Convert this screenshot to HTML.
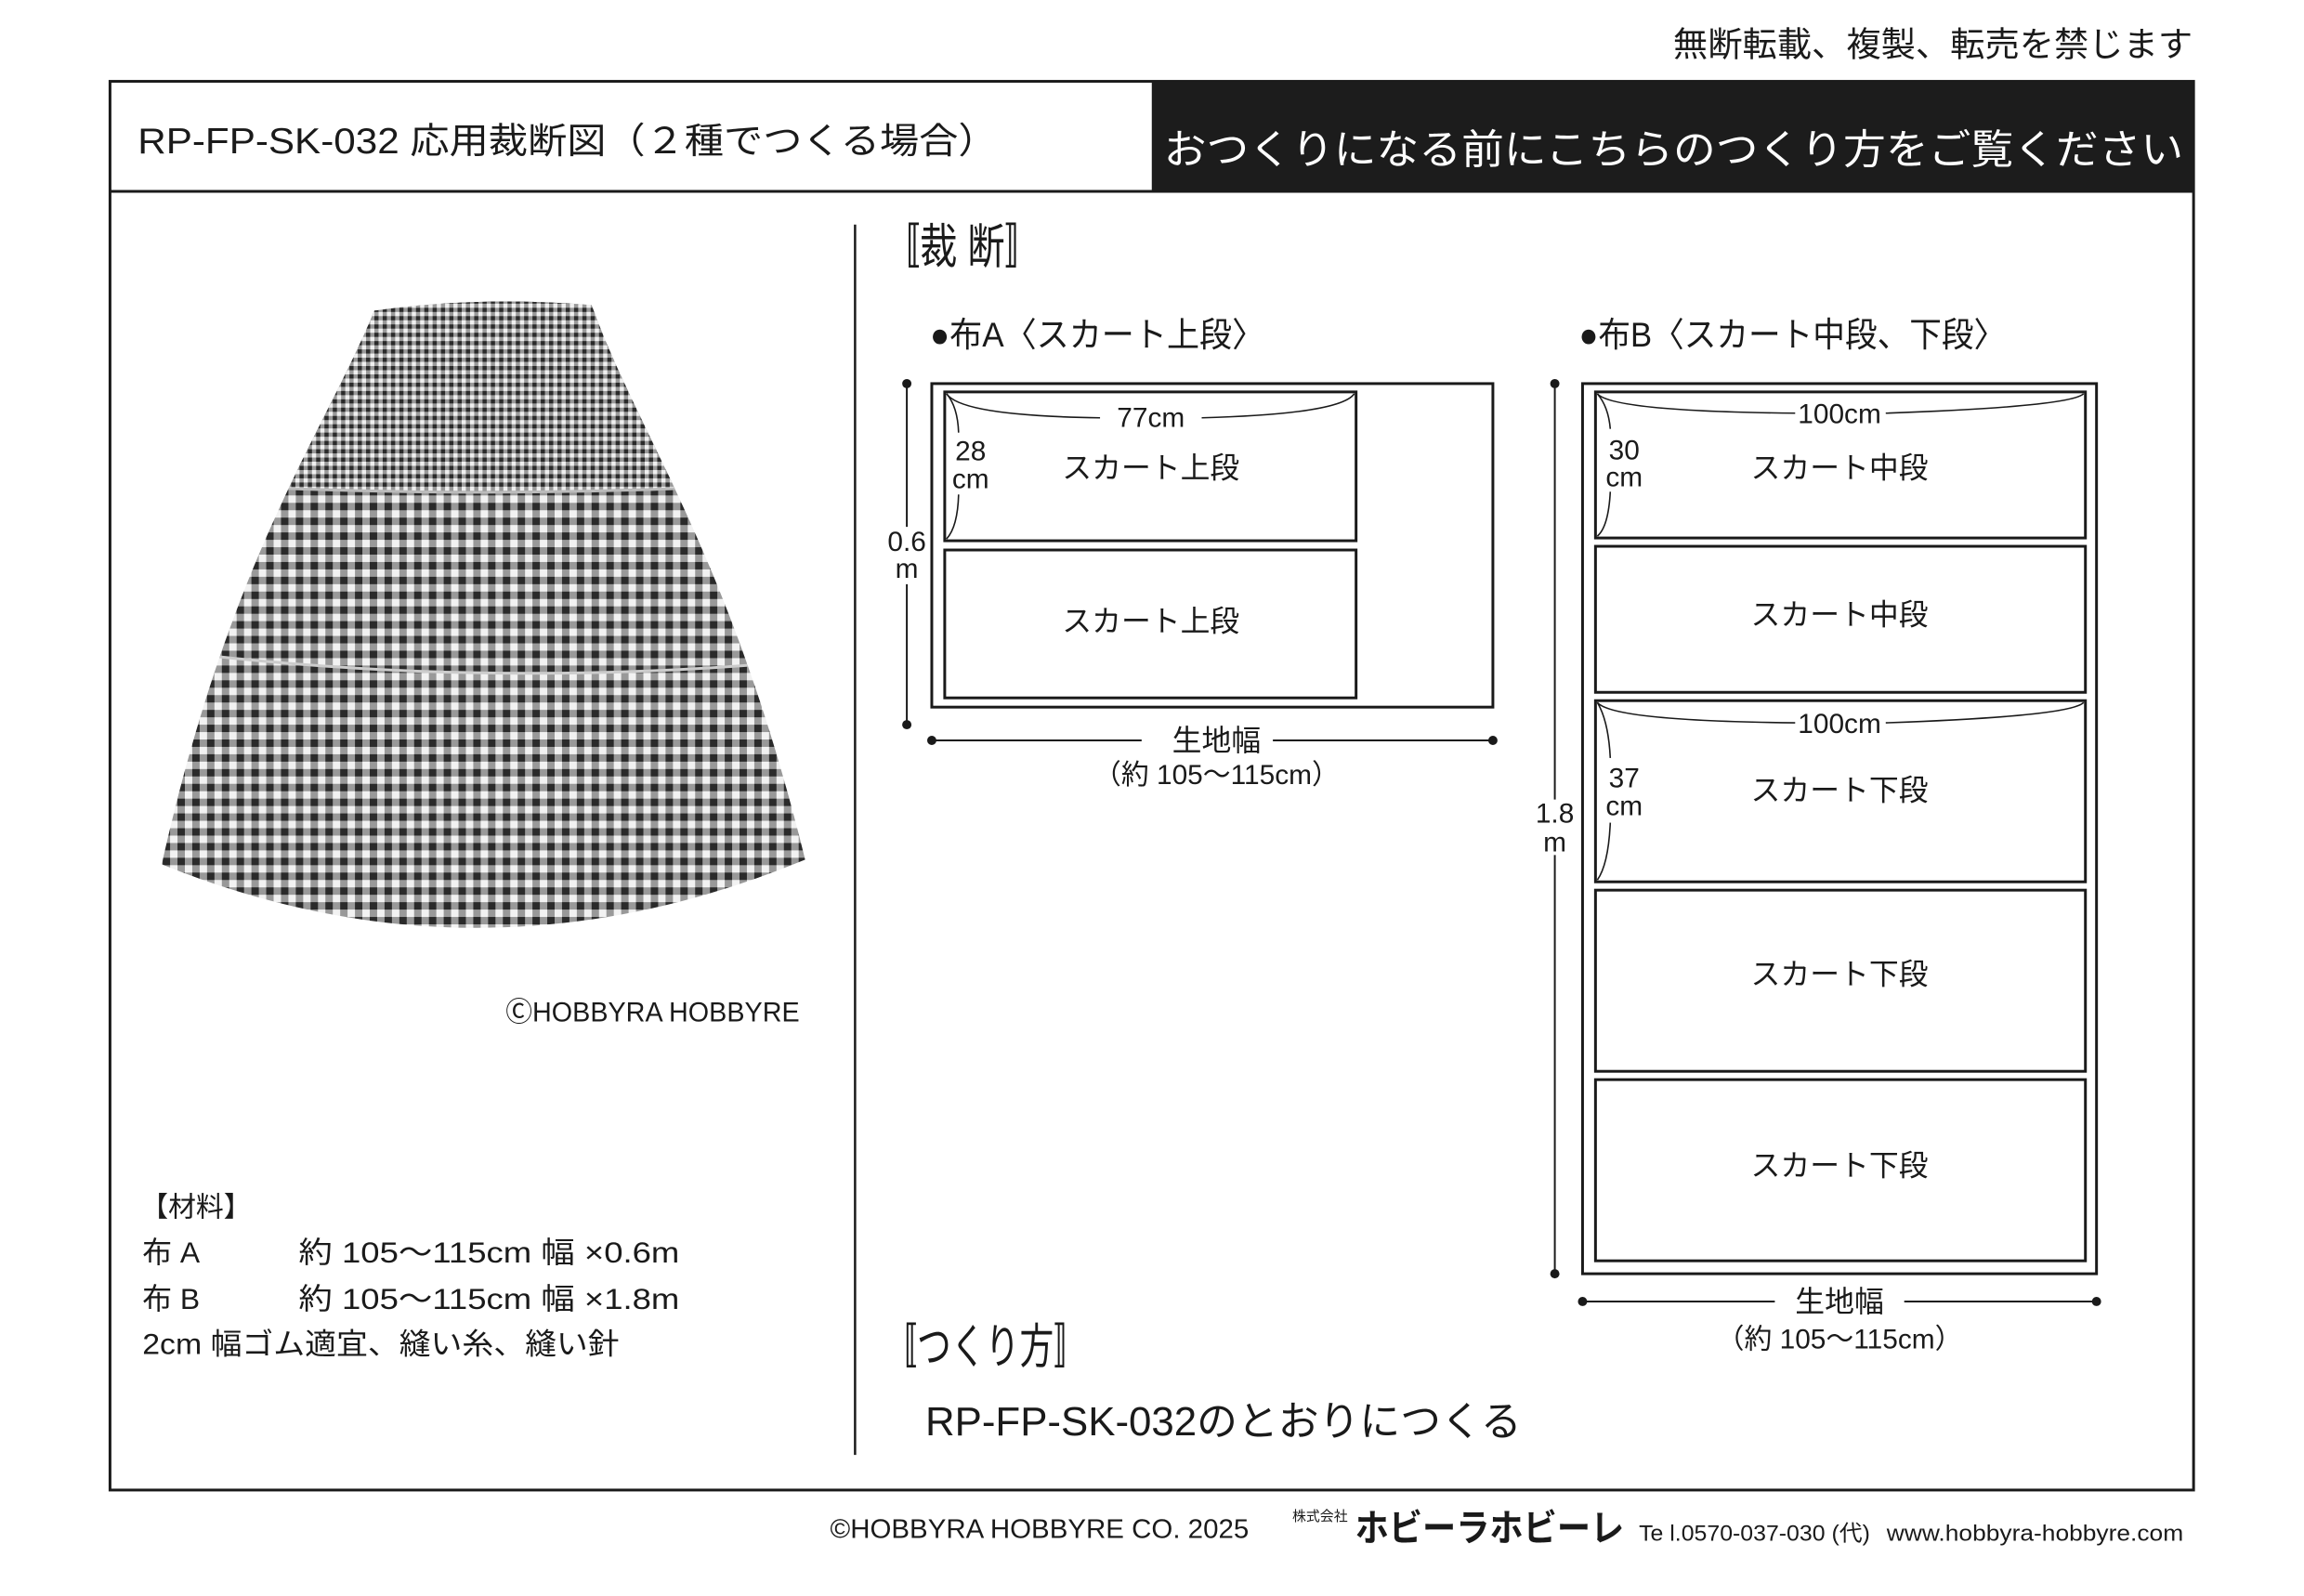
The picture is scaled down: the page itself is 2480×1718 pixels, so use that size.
<!DOCTYPE html>
<html><head><meta charset="utf-8"><style>
html,body{margin:0;padding:0;background:#fff}
svg{display:block}
text{font-family:"Liberation Sans","Noto Sans CJK JP",sans-serif;fill:#1a1a1a}
</style></head><body>
<svg width="2480" height="1718" viewBox="0 0 2480 1718" xmlns="http://www.w3.org/2000/svg">
<defs>
<pattern id="g1" width="16" height="16" patternUnits="userSpaceOnUse">
<rect width="16" height="16" fill="#f2f2f2"/>
<rect width="8" height="16" fill="#999"/>
<rect width="16" height="8" fill="#999"/>
<rect width="8" height="8" fill="#2a2a2a"/>
</pattern>
<pattern id="g2" width="9" height="9" patternUnits="userSpaceOnUse">
<rect width="9" height="9" fill="#f0f0f0"/>
<rect width="4.5" height="9" fill="#999"/>
<rect width="9" height="4.5" fill="#999"/>
<rect width="4.5" height="4.5" fill="#2a2a2a"/>
</pattern>
<clipPath id="sk"><path d="M405,336 Q520,320 640,330 C690,470 790,600 871,930 Q520,1075 175,935 C250,600 350,470 405,336 Z"/></clipPath>
</defs>
<g transform="scale(0.995)">
<text x="2372" y="61" font-size="37" text-anchor="end" textLength="562" lengthAdjust="spacingAndGlyphs">無断転載、複製、転売を禁じます</text>

<rect x="119" y="88" width="2254" height="1524" fill="none" stroke="#1a1a1a" stroke-width="3"/>
<rect x="1246" y="88" width="1127" height="119" fill="#1c1c1c"/>
<line x1="119" y1="207" x2="2373" y2="207" stroke="#1a1a1a" stroke-width="3"/>
<text x="149" y="166" font-size="39" textLength="930" lengthAdjust="spacingAndGlyphs">RP-FP-SK-032 応用裁断図（２種でつくる場合）</text>
<text x="1259" y="177" font-size="44" style="fill:#fff" textLength="1103" lengthAdjust="spacingAndGlyphs">おつくりになる前にこちらのつくり方をご覧ください</text>

<line x1="925" y1="243" x2="925" y2="1574" stroke="#1a1a1a" stroke-width="2.5"/>

<!-- skirt -->
<g clip-path="url(#sk)">
<rect x="150" y="300" width="750" height="800" fill="url(#g1)"/>
<path d="M150,300 L900,300 L900,520 Q520,545 150,520 Z" fill="url(#g2)"/>
<path d="M150,520 Q520,545 900,520" fill="none" stroke="#bbb" stroke-width="3"/>
<path d="M150,700 Q520,750 900,712" fill="none" stroke="#ccc" stroke-width="3"/>
</g>

<text x="547" y="1105" font-size="30" textLength="318" lengthAdjust="spacingAndGlyphs">ⒸHOBBYRA HOBBYRE</text>

<text x="152" y="1316" font-size="30">【材料】</text>
<text x="154" y="1366" font-size="32">布 A</text>
<text x="323" y="1366" font-size="32" textLength="412" lengthAdjust="spacingAndGlyphs">約 105〜115cm 幅 ×0.6m</text>
<text x="154" y="1416" font-size="32">布 B</text>
<text x="323" y="1416" font-size="32" textLength="412" lengthAdjust="spacingAndGlyphs">約 105〜115cm 幅 ×1.8m</text>
<text x="154" y="1465" font-size="32" textLength="516" lengthAdjust="spacingAndGlyphs">2cm 幅ゴム適宜、縫い糸、縫い針</text>

<text x="955" y="285" font-size="52" textLength="172" lengthAdjust="spacingAndGlyphs">〚裁 断〛</text>
<text x="1006" y="375" font-size="37" textLength="362" lengthAdjust="spacingAndGlyphs">●布A〈スカート上段〉</text>
<text x="1708" y="375" font-size="37" textLength="462" lengthAdjust="spacingAndGlyphs">●布B〈スカート中段、下段〉</text>
<text x="955" y="1475" font-size="52" textLength="222" lengthAdjust="spacingAndGlyphs">〚つくり方〛</text>
<text x="1001" y="1553" font-size="44" textLength="645" lengthAdjust="spacingAndGlyphs">RP-FP-SK-032のとおりにつくる</text>

<g fill="none" stroke="#1a1a1a">
<rect x="1008" y="415" width="607" height="350" stroke-width="3"/>
<rect x="1022" y="424" width="445" height="161" stroke-width="3"/>
<rect x="1022" y="595" width="445" height="160" stroke-width="3"/>
<line x1="981" y1="415" x2="981" y2="570" stroke-width="2"/>
<line x1="981" y1="632" x2="981" y2="784" stroke-width="2"/>
<line x1="1008" y1="801" x2="1235" y2="801" stroke-width="2"/>
<line x1="1377" y1="801" x2="1615" y2="801" stroke-width="2"/>
<path d="M1024,426 Q1040,450 1190,452 M1300,452 Q1450,448 1465,426" stroke-width="1.6"/>
<path d="M1024,426 Q1036,440 1037,468 M1037,535 Q1036,570 1024,583" stroke-width="1.6"/>
<rect x="1712" y="415" width="556" height="963" stroke-width="3"/>
<rect x="1726" y="424" width="530" height="158" stroke-width="3"/>
<rect x="1726" y="591" width="530" height="158" stroke-width="3"/>
<rect x="1726" y="758" width="530" height="196" stroke-width="3"/>
<rect x="1726" y="963" width="530" height="196" stroke-width="3"/>
<rect x="1726" y="1168" width="530" height="196" stroke-width="3"/>
<line x1="1682" y1="415" x2="1682" y2="865" stroke-width="2"/>
<line x1="1682" y1="925" x2="1682" y2="1378" stroke-width="2"/>
<line x1="1712" y1="1408" x2="1920" y2="1408" stroke-width="2"/>
<line x1="2060" y1="1408" x2="2268" y2="1408" stroke-width="2"/>
<path d="M1728,426 Q1745,445 1942,447 M2040,447 Q2240,440 2254,426" stroke-width="1.6"/>
<path d="M1728,426 Q1740,440 1742,464 M1742,532 Q1740,570 1728,580" stroke-width="1.6"/>
<path d="M1728,760 Q1745,780 1942,782 M2040,782 Q2240,775 2254,760" stroke-width="1.6"/>
<path d="M1728,760 Q1740,780 1742,820 M1742,890 Q1740,935 1728,952" stroke-width="1.6"/>
</g>
<g fill="#1a1a1a">
<circle cx="981" cy="415" r="5"/><circle cx="981" cy="784" r="5"/>
<circle cx="1008" cy="801" r="5"/><circle cx="1615" cy="801" r="5"/>
<circle cx="1682" cy="415" r="5"/><circle cx="1682" cy="1378" r="5"/>
<circle cx="1712" cy="1408" r="5"/><circle cx="2268" cy="1408" r="5"/>
</g>

<g font-size="30" text-anchor="middle">
<text x="1245" y="462">77cm</text>
<text x="1050" y="498">28</text><text x="1050" y="528">cm</text>
<text x="981" y="596">0.6</text><text x="981" y="625">m</text>
<text x="1316" y="812" font-size="32">生地幅</text>
<text x="1316" y="848">（約 105〜115cm）</text>
<text x="1990" y="458">100cm</text>
<text x="1990" y="793">100cm</text>
<text x="1757" y="497">30</text><text x="1757" y="526">cm</text>
<text x="1757" y="852">37</text><text x="1757" y="882">cm</text>
<text x="1682" y="890">1.8</text><text x="1682" y="921">m</text>
<text x="1990" y="1419" font-size="32">生地幅</text>
<text x="1990" y="1459">（約 105〜115cm）</text>
</g>
<g font-size="32" text-anchor="middle">
<text x="1245" y="517">スカート上段</text>
<text x="1245" y="683">スカート上段</text>
<text x="1990" y="517">スカート中段</text>
<text x="1990" y="676">スカート中段</text>
<text x="1990" y="866">スカート下段</text>
<text x="1990" y="1065">スカート下段</text>
<text x="1990" y="1272">スカート下段</text>
</g>

<text x="898" y="1664" font-size="29" textLength="453" lengthAdjust="spacingAndGlyphs">©HOBBYRA HOBBYRE CO.  2025</text>
<text x="1398" y="1645" font-size="15">株式会社</text>
<text x="1466" y="1667" font-size="40" font-weight="bold" textLength="291" lengthAdjust="spacingAndGlyphs">ホビーラホビーレ</text>
<text x="1773" y="1667" font-size="24" textLength="250" lengthAdjust="spacingAndGlyphs">Te l.0570-037-030 (代)</text>
<text x="2041" y="1667" font-size="24" textLength="321" lengthAdjust="spacingAndGlyphs">www.hobbyra-hobbyre.com</text>
</g>
</svg>
</body></html>
